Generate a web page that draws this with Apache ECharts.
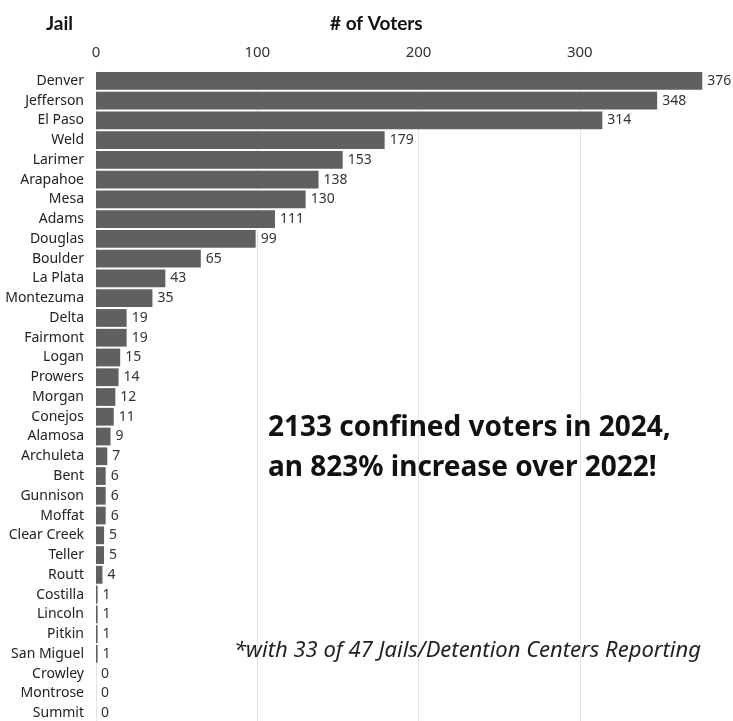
<!DOCTYPE html>
<html>
<head>
<meta charset="utf-8">
<script src="https://cdn.jsdelivr.net/npm/echarts@6/dist/echarts.min.js"></script>
<style>
  html, body { margin: 0; padding: 0; background: #fff; }
  #jailChart { width: 733px; height: 721px; }
</style>
</head>
<body>
<div id="jailChart"></div>
<script>
  // jails, sorted by number of confined voters
  var jails = ['Denver', 'Jefferson', 'El Paso', 'Weld', 'Larimer', 'Arapahoe', 'Mesa', 'Adams',
    'Douglas', 'Boulder', 'La Plata', 'Montezuma', 'Delta', 'Fairmont', 'Logan', 'Prowers',
    'Morgan', 'Conejos', 'Alamosa', 'Archuleta', 'Bent', 'Gunnison', 'Moffat', 'Clear Creek',
    'Teller', 'Routt', 'Costilla', 'Lincoln', 'Pitkin', 'San Miguel', 'Crowley', 'Montrose', 'Summit']
  var voters = [376, 348, 314, 179, 153, 138, 130, 111, 99, 65, 43, 35, 19, 19, 15, 14,
    12, 11, 9, 7, 6, 6, 6, 5, 5, 4, 1, 1, 1, 1, 0, 0, 0]

  var headFont = 'Lato, "Noto Sans", sans-serif'
  var labelFont = '"Noto Sans", sans-serif'

  var chart = echarts.init(document.getElementById('jailChart'))
  var option = {
    animation: false,
    title: [
      {
        text: 'Jail',
        left: 41, top: 9,
        textStyle: { fontFamily: headFont, fontWeight: 'bold', fontSize: 19, color: '#111' }
      },
      {
        text: '# of Voters',
        left: 325, top: 9,
        textStyle: { fontFamily: headFont, fontWeight: 'bold', fontSize: 19, color: '#111' }
      },
      {
        text: '2133 confined voters in 2024,\nan 823% increase over 2022!',
        left: 263, top: 403,
        textStyle: { fontFamily: labelFont, fontWeight: 'bold', fontSize: 28, lineHeight: 40, color: '#111' }
      },
      {
        text: '*with 33 of 47 Jails/Detention Centers Reporting',
        left: 229, top: 635,
        textStyle: { fontFamily: labelFont, fontStyle: 'italic', fontWeight: 'normal', fontSize: 22, color: '#222' }
      }
    ],
    grid: {
      left: 96,
      top: 71,
      width: 645,
      height: 652,
      outerBoundsMode: 'none'
    },
    xAxis: {
      type: 'value',
      position: 'top',
      min: 0,
      max: 400,
      interval: 100,
      axisLine: { show: false },
      axisTick: { show: false },
      axisLabel: { fontFamily: labelFont, fontSize: 15, color: '#333', margin: 11, showMaxLabel: false },
      splitLine: { lineStyle: { color: '#e4e4e4', width: 1 } }
    },
    yAxis: {
      type: 'category',
      inverse: true,
      data: jails,
      axisLine: { show: false },
      axisTick: { show: false },
      axisLabel: { fontFamily: labelFont, fontSize: 14, color: '#222', margin: 12 }
    },
    series: [
      {
        name: '# of Voters',
        type: 'bar',
        data: voters,
        barCategoryGap: '10%',
        itemStyle: { color: '#606060' },
        label: {
          show: true,
          position: 'right',
          distance: 5,
          fontFamily: labelFont,
          fontSize: 14,
          color: '#333'
        }
      }
    ]
  }
  chart.setOption(option)
</script>
</body>
</html>
